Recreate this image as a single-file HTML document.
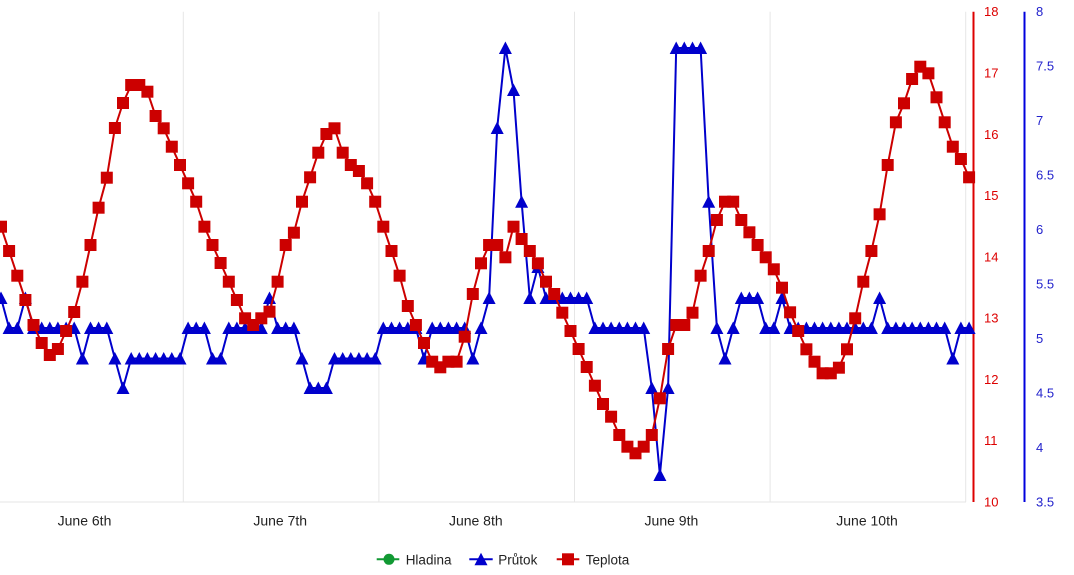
<!DOCTYPE html>
<html>
<head>
<meta charset="utf-8">
<style>
html,body{margin:0;padding:0;background:#fff;}
svg{display:block;font-family:"Liberation Sans",Arial,sans-serif;}
</style>
</head>
<body>
<svg width="1074" height="575" viewBox="0 0 1074 575" xmlns="http://www.w3.org/2000/svg">
<defs>
<rect id="s" x="-6" y="-6" width="12" height="12" fill="#cc0000"/>
<path id="t" d="M0,-6.5 L6.5,6 L-6.5,6 Z" fill="#0000cc"/>
</defs>
<rect width="1074" height="575" fill="#fff"/>
<!-- grid -->
<g stroke="#e6e6e6" stroke-width="1">
<line x1="183.3" y1="11.7" x2="183.3" y2="502"/>
<line x1="378.9" y1="11.7" x2="378.9" y2="502"/>
<line x1="574.5" y1="11.7" x2="574.5" y2="502"/>
<line x1="770.1" y1="11.7" x2="770.1" y2="502"/>
<line x1="965.7" y1="11.7" x2="965.7" y2="502"/>
<line x1="0" y1="502" x2="966" y2="502"/>
</g>
<!-- axes -->
<line x1="973.5" y1="11.7" x2="973.5" y2="502" stroke="#dd0000" stroke-width="2"/>
<line x1="1024.5" y1="11.7" x2="1024.5" y2="502" stroke="#0000dd" stroke-width="2"/>
<g font-size="13" fill="#dd0000">
<text x="984" y="16.2">18</text>
<text x="984" y="77.5">17</text>
<text x="984" y="138.8">16</text>
<text x="984" y="200">15</text>
<text x="984" y="261.3">14</text>
<text x="984" y="322.5">13</text>
<text x="984" y="383.8">12</text>
<text x="984" y="445.2">11</text>
<text x="984" y="506.5">10</text>
</g>
<g font-size="13" fill="#2222cc">
<text x="1036" y="16.2">8</text>
<text x="1036" y="70.7">7.5</text>
<text x="1036" y="125.2">7</text>
<text x="1036" y="179.7">6.5</text>
<text x="1036" y="234.2">6</text>
<text x="1036" y="288.7">5.5</text>
<text x="1036" y="343.2">5</text>
<text x="1036" y="397.7">4.5</text>
<text x="1036" y="452.2">4</text>
<text x="1036" y="506.5">3.5</text>
</g>
<g font-size="14" fill="#222" text-anchor="middle">
<text x="84.5" y="525.5">June 6th</text>
<text x="280.2" y="525.5">June 7th</text>
<text x="475.8" y="525.5">June 8th</text>
<text x="671.4" y="525.5">June 9th</text>
<text x="867" y="525.5">June 10th</text>
</g>
<!-- blue series -->
<polyline fill="none" stroke="#0000cc" stroke-width="2" stroke-linejoin="round" points="1.0,298 9.1,328 17.3,328 25.4,298 33.5,328 41.7,328 49.8,328 57.9,328 66.1,328 74.2,328 82.4,358.5 90.5,328 98.6,328 106.8,328 114.9,358.5 123.0,388 131.2,358.5 139.3,358.5 147.4,358.5 155.6,358.5 163.7,358.5 171.8,358.5 180.0,358.5 188.1,328 196.2,328 204.4,328 212.5,358.5 220.6,358.5 228.8,328 236.9,328 245.1,328 253.2,328 261.3,328 269.5,298 277.6,328 285.7,328 293.9,328 302.0,358.5 310.1,388 318.3,388 326.4,388 334.5,358.5 342.7,358.5 350.8,358.5 358.9,358.5 367.1,358.5 375.2,358.5 383.3,328 391.5,328 399.6,328 407.8,328 415.9,328 424.0,358.5 432.2,328 440.3,328 448.4,328 456.6,328 464.7,328 472.8,358.5 481.0,328 489.1,298 497.2,128 505.4,48 513.5,90 521.6,201.7 529.8,298 537.9,267 546.0,298 554.2,298 562.3,298 570.5,298 578.6,298 586.7,298 594.9,328 603.0,328 611.1,328 619.3,328 627.4,328 635.5,328 643.7,328 651.8,388 659.9,475 668.1,388 676.2,48 684.3,48 692.5,48 700.6,48 708.7,201.7 716.9,328 725.0,358.5 733.2,328 741.3,298 749.4,298 757.6,298 765.7,328 773.8,328 782.0,298 790.1,328 798.2,328 806.4,328 814.5,328 822.6,328 830.8,328 838.9,328 847.0,328 855.2,328 863.3,328 871.4,328 879.6,298 887.7,328 895.9,328 904.0,328 912.1,328 920.3,328 928.4,328 936.5,328 944.7,328 952.8,358.5 960.9,328 969.1,328"/>
<g>
<use href="#t" x="1.0" y="298"/><use href="#t" x="9.1" y="328"/><use href="#t" x="17.3" y="328"/><use href="#t" x="25.4" y="298"/><use href="#t" x="33.5" y="328"/><use href="#t" x="41.7" y="328"/><use href="#t" x="49.8" y="328"/><use href="#t" x="57.9" y="328"/><use href="#t" x="66.1" y="328"/><use href="#t" x="74.2" y="328"/>
<use href="#t" x="82.4" y="358.5"/><use href="#t" x="90.5" y="328"/><use href="#t" x="98.6" y="328"/><use href="#t" x="106.8" y="328"/><use href="#t" x="114.9" y="358.5"/><use href="#t" x="123.0" y="388"/><use href="#t" x="131.2" y="358.5"/><use href="#t" x="139.3" y="358.5"/><use href="#t" x="147.4" y="358.5"/><use href="#t" x="155.6" y="358.5"/>
<use href="#t" x="163.7" y="358.5"/><use href="#t" x="171.8" y="358.5"/><use href="#t" x="180.0" y="358.5"/><use href="#t" x="188.1" y="328"/><use href="#t" x="196.2" y="328"/><use href="#t" x="204.4" y="328"/><use href="#t" x="212.5" y="358.5"/><use href="#t" x="220.6" y="358.5"/><use href="#t" x="228.8" y="328"/><use href="#t" x="236.9" y="328"/>
<use href="#t" x="245.1" y="328"/><use href="#t" x="253.2" y="328"/><use href="#t" x="261.3" y="328"/><use href="#t" x="269.5" y="298"/><use href="#t" x="277.6" y="328"/><use href="#t" x="285.7" y="328"/><use href="#t" x="293.9" y="328"/><use href="#t" x="302.0" y="358.5"/><use href="#t" x="310.1" y="388"/><use href="#t" x="318.3" y="388"/>
<use href="#t" x="326.4" y="388"/><use href="#t" x="334.5" y="358.5"/><use href="#t" x="342.7" y="358.5"/><use href="#t" x="350.8" y="358.5"/><use href="#t" x="358.9" y="358.5"/><use href="#t" x="367.1" y="358.5"/><use href="#t" x="375.2" y="358.5"/><use href="#t" x="383.3" y="328"/><use href="#t" x="391.5" y="328"/><use href="#t" x="399.6" y="328"/>
<use href="#t" x="407.8" y="328"/><use href="#t" x="415.9" y="328"/><use href="#t" x="424.0" y="358.5"/><use href="#t" x="432.2" y="328"/><use href="#t" x="440.3" y="328"/><use href="#t" x="448.4" y="328"/><use href="#t" x="456.6" y="328"/><use href="#t" x="464.7" y="328"/><use href="#t" x="472.8" y="358.5"/><use href="#t" x="481.0" y="328"/>
<use href="#t" x="489.1" y="298"/><use href="#t" x="497.2" y="128"/><use href="#t" x="505.4" y="48"/><use href="#t" x="513.5" y="90"/><use href="#t" x="521.6" y="201.7"/><use href="#t" x="529.8" y="298"/><use href="#t" x="537.9" y="267"/><use href="#t" x="546.0" y="298"/><use href="#t" x="554.2" y="298"/><use href="#t" x="562.3" y="298"/>
<use href="#t" x="570.5" y="298"/><use href="#t" x="578.6" y="298"/><use href="#t" x="586.7" y="298"/><use href="#t" x="594.9" y="328"/><use href="#t" x="603.0" y="328"/><use href="#t" x="611.1" y="328"/><use href="#t" x="619.3" y="328"/><use href="#t" x="627.4" y="328"/><use href="#t" x="635.5" y="328"/><use href="#t" x="643.7" y="328"/>
<use href="#t" x="651.8" y="388"/><use href="#t" x="659.9" y="475"/><use href="#t" x="668.1" y="388"/><use href="#t" x="676.2" y="48"/><use href="#t" x="684.3" y="48"/><use href="#t" x="692.5" y="48"/><use href="#t" x="700.6" y="48"/><use href="#t" x="708.7" y="201.7"/><use href="#t" x="716.9" y="328"/><use href="#t" x="725.0" y="358.5"/>
<use href="#t" x="733.2" y="328"/><use href="#t" x="741.3" y="298"/><use href="#t" x="749.4" y="298"/><use href="#t" x="757.6" y="298"/><use href="#t" x="765.7" y="328"/><use href="#t" x="773.8" y="328"/><use href="#t" x="782.0" y="298"/><use href="#t" x="790.1" y="328"/><use href="#t" x="798.2" y="328"/><use href="#t" x="806.4" y="328"/>
<use href="#t" x="814.5" y="328"/><use href="#t" x="822.6" y="328"/><use href="#t" x="830.8" y="328"/><use href="#t" x="838.9" y="328"/><use href="#t" x="847.0" y="328"/><use href="#t" x="855.2" y="328"/><use href="#t" x="863.3" y="328"/><use href="#t" x="871.4" y="328"/><use href="#t" x="879.6" y="298"/><use href="#t" x="887.7" y="328"/>
<use href="#t" x="895.9" y="328"/><use href="#t" x="904.0" y="328"/><use href="#t" x="912.1" y="328"/><use href="#t" x="920.3" y="328"/><use href="#t" x="928.4" y="328"/><use href="#t" x="936.5" y="328"/><use href="#t" x="944.7" y="328"/><use href="#t" x="952.8" y="358.5"/><use href="#t" x="960.9" y="328"/><use href="#t" x="969.1" y="328"/>
</g>
<!-- red series -->
<polyline fill="none" stroke="#cc0000" stroke-width="2" stroke-linejoin="round" points="1.0,226.7 9.1,251 17.3,275.7 25.4,300 33.5,325 41.7,343 49.8,355 57.9,349 66.1,331 74.2,312 82.4,281.7 90.5,245 98.6,207.7 106.8,177.7 114.9,128 123.0,103 131.2,85 139.3,85 147.4,91.7 155.6,116 163.7,128.3 171.8,146.7 180.0,165 188.1,183.3 196.2,201.7 204.4,226.7 212.5,245 220.6,263 228.8,281.7 236.9,300 245.1,318.3 253.2,325 261.3,318.3 269.5,311.7 277.6,281.7 285.7,245 293.9,232.7 302.0,201.7 310.1,177.3 318.3,152.7 326.4,134 334.5,128.3 342.7,152.7 350.8,165 358.9,171 367.1,183.3 375.2,201.7 383.3,226.7 391.5,251 399.6,275.7 407.8,306 415.9,325 424.0,343 432.2,361.7 440.3,367.3 448.4,361.7 456.6,361.7 464.7,336.7 472.8,294 481.0,263.3 489.1,245 497.2,245 505.4,257.3 513.5,226.7 521.6,239 529.8,251 537.9,263.3 546.0,281.7 554.2,294 562.3,312.7 570.5,331 578.6,349 586.7,367 594.9,385.7 603.0,404 611.1,416.7 619.3,435 627.4,446.7 635.5,453.3 643.7,446.7 651.8,435 659.9,398.3 668.1,349 676.2,325 684.3,325 692.5,312.7 700.6,275.7 708.7,251 716.9,220 725.0,201.7 733.2,201.7 741.3,220 749.4,232.3 757.6,245 765.7,257.3 773.8,269.3 782.0,287.7 790.1,312.3 798.2,331 806.4,349.3 814.5,361.7 822.6,373.3 830.8,373.3 838.9,367.7 847.0,349.3 855.2,318.3 863.3,281.7 871.4,251 879.6,214.3 887.7,165 895.9,122.3 904.0,103.3 912.1,79 920.3,66.7 928.4,73.3 936.5,97.3 944.7,122.3 952.8,146.7 960.9,159 969.1,177.3"/>
<g>
<use href="#s" x="1.0" y="226.7"/><use href="#s" x="9.1" y="251"/><use href="#s" x="17.3" y="275.7"/><use href="#s" x="25.4" y="300"/><use href="#s" x="33.5" y="325"/><use href="#s" x="41.7" y="343"/><use href="#s" x="49.8" y="355"/><use href="#s" x="57.9" y="349"/><use href="#s" x="66.1" y="331"/><use href="#s" x="74.2" y="312"/>
<use href="#s" x="82.4" y="281.7"/><use href="#s" x="90.5" y="245"/><use href="#s" x="98.6" y="207.7"/><use href="#s" x="106.8" y="177.7"/><use href="#s" x="114.9" y="128"/><use href="#s" x="123.0" y="103"/><use href="#s" x="131.2" y="85"/><use href="#s" x="139.3" y="85"/><use href="#s" x="147.4" y="91.7"/><use href="#s" x="155.6" y="116"/>
<use href="#s" x="163.7" y="128.3"/><use href="#s" x="171.8" y="146.7"/><use href="#s" x="180.0" y="165"/><use href="#s" x="188.1" y="183.3"/><use href="#s" x="196.2" y="201.7"/><use href="#s" x="204.4" y="226.7"/><use href="#s" x="212.5" y="245"/><use href="#s" x="220.6" y="263"/><use href="#s" x="228.8" y="281.7"/><use href="#s" x="236.9" y="300"/>
<use href="#s" x="245.1" y="318.3"/><use href="#s" x="253.2" y="325"/><use href="#s" x="261.3" y="318.3"/><use href="#s" x="269.5" y="311.7"/><use href="#s" x="277.6" y="281.7"/><use href="#s" x="285.7" y="245"/><use href="#s" x="293.9" y="232.7"/><use href="#s" x="302.0" y="201.7"/><use href="#s" x="310.1" y="177.3"/><use href="#s" x="318.3" y="152.7"/>
<use href="#s" x="326.4" y="134"/><use href="#s" x="334.5" y="128.3"/><use href="#s" x="342.7" y="152.7"/><use href="#s" x="350.8" y="165"/><use href="#s" x="358.9" y="171"/><use href="#s" x="367.1" y="183.3"/><use href="#s" x="375.2" y="201.7"/><use href="#s" x="383.3" y="226.7"/><use href="#s" x="391.5" y="251"/><use href="#s" x="399.6" y="275.7"/>
<use href="#s" x="407.8" y="306"/><use href="#s" x="415.9" y="325"/><use href="#s" x="424.0" y="343"/><use href="#s" x="432.2" y="361.7"/><use href="#s" x="440.3" y="367.3"/><use href="#s" x="448.4" y="361.7"/><use href="#s" x="456.6" y="361.7"/><use href="#s" x="464.7" y="336.7"/><use href="#s" x="472.8" y="294"/><use href="#s" x="481.0" y="263.3"/>
<use href="#s" x="489.1" y="245"/><use href="#s" x="497.2" y="245"/><use href="#s" x="505.4" y="257.3"/><use href="#s" x="513.5" y="226.7"/><use href="#s" x="521.6" y="239"/><use href="#s" x="529.8" y="251"/><use href="#s" x="537.9" y="263.3"/><use href="#s" x="546.0" y="281.7"/><use href="#s" x="554.2" y="294"/><use href="#s" x="562.3" y="312.7"/>
<use href="#s" x="570.5" y="331"/><use href="#s" x="578.6" y="349"/><use href="#s" x="586.7" y="367"/><use href="#s" x="594.9" y="385.7"/><use href="#s" x="603.0" y="404"/><use href="#s" x="611.1" y="416.7"/><use href="#s" x="619.3" y="435"/><use href="#s" x="627.4" y="446.7"/><use href="#s" x="635.5" y="453.3"/><use href="#s" x="643.7" y="446.7"/>
<use href="#s" x="651.8" y="435"/><use href="#s" x="659.9" y="398.3"/><use href="#s" x="668.1" y="349"/><use href="#s" x="676.2" y="325"/><use href="#s" x="684.3" y="325"/><use href="#s" x="692.5" y="312.7"/><use href="#s" x="700.6" y="275.7"/><use href="#s" x="708.7" y="251"/><use href="#s" x="716.9" y="220"/><use href="#s" x="725.0" y="201.7"/>
<use href="#s" x="733.2" y="201.7"/><use href="#s" x="741.3" y="220"/><use href="#s" x="749.4" y="232.3"/><use href="#s" x="757.6" y="245"/><use href="#s" x="765.7" y="257.3"/><use href="#s" x="773.8" y="269.3"/><use href="#s" x="782.0" y="287.7"/><use href="#s" x="790.1" y="312.3"/><use href="#s" x="798.2" y="331"/><use href="#s" x="806.4" y="349.3"/>
<use href="#s" x="814.5" y="361.7"/><use href="#s" x="822.6" y="373.3"/><use href="#s" x="830.8" y="373.3"/><use href="#s" x="838.9" y="367.7"/><use href="#s" x="847.0" y="349.3"/><use href="#s" x="855.2" y="318.3"/><use href="#s" x="863.3" y="281.7"/><use href="#s" x="871.4" y="251"/><use href="#s" x="879.6" y="214.3"/><use href="#s" x="887.7" y="165"/>
<use href="#s" x="895.9" y="122.3"/><use href="#s" x="904.0" y="103.3"/><use href="#s" x="912.1" y="79"/><use href="#s" x="920.3" y="66.7"/><use href="#s" x="928.4" y="73.3"/><use href="#s" x="936.5" y="97.3"/><use href="#s" x="944.7" y="122.3"/><use href="#s" x="952.8" y="146.7"/><use href="#s" x="960.9" y="159"/><use href="#s" x="969.1" y="177.3"/>
</g>
<!-- legend -->
<line x1="376.7" y1="559.3" x2="399.3" y2="559.3" stroke="#119933" stroke-width="2"/>
<circle cx="389" cy="559.3" r="5.5" fill="#119933"/>
<text x="405.7" y="564.3" font-size="13.5" fill="#222">Hladina</text>
<line x1="469.3" y1="559.3" x2="492.7" y2="559.3" stroke="#0000cc" stroke-width="2"/>
<use href="#t" x="481" y="559.3"/>
<text x="498.3" y="564.3" font-size="13.5" fill="#222">Průtok</text>
<line x1="556.7" y1="559.3" x2="579.3" y2="559.3" stroke="#cc0000" stroke-width="2"/>
<use href="#s" x="568" y="559.3"/>
<text x="585.7" y="564.3" font-size="13.5" fill="#222">Teplota</text>
</svg>
</body>
</html>
